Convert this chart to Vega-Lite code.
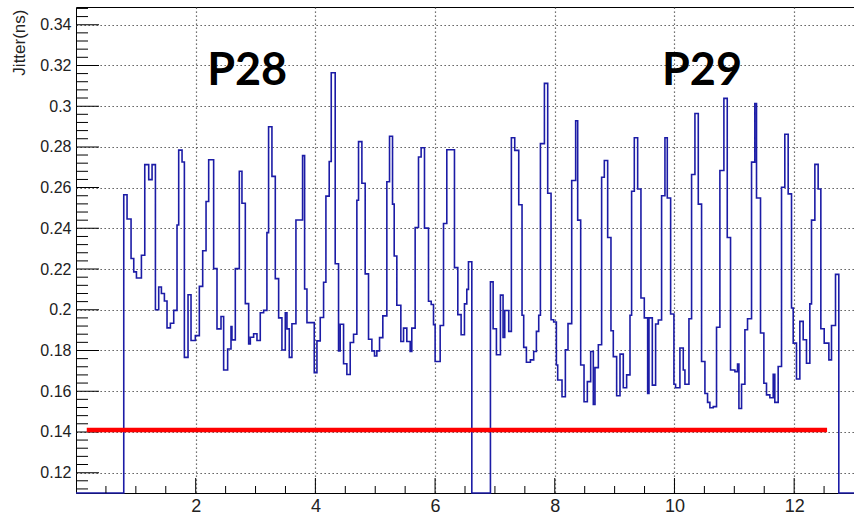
{
  "$schema": "https://vega.github.io/schema/vega-lite/v6.json",
  "width": 778,
  "height": 486,
  "autosize": {"type": "none"},
  "padding": {"left": 76, "top": 7, "right": 0, "bottom": 23},
  "background": "white",
  "config": {
    "view": {"stroke": "black", "strokeWidth": 1},
    "font": "Liberation Sans"
  },
  "datasets": {
    "hist": [
      {"x": 0, "y": 0},
      {"x": 0.798, "y": 0.2565}, {"x": 0.853, "y": 0.2446}, {"x": 0.920, "y": 0.2252}, {"x": 0.965, "y": 0.2186},
      {"x": 1.010, "y": 0.2156}, {"x": 1.093, "y": 0.2268}, {"x": 1.149, "y": 0.2713}, {"x": 1.215, "y": 0.2639},
      {"x": 1.271, "y": 0.2713}, {"x": 1.327, "y": 0.2000}, {"x": 1.382, "y": 0.2112}, {"x": 1.427, "y": 0.2080},
      {"x": 1.477, "y": 0.2043}, {"x": 1.521, "y": 0.1911}, {"x": 1.577, "y": 0.1934}, {"x": 1.633, "y": 0.1997},
      {"x": 1.688, "y": 0.2416}, {"x": 1.716, "y": 0.2784}, {"x": 1.772, "y": 0.2726}, {"x": 1.811, "y": 0.1766},
      {"x": 1.872, "y": 0.2074}, {"x": 1.922, "y": 0.1849}, {"x": 1.994, "y": 0.1873}, {"x": 2.061, "y": 0.2115},
      {"x": 2.117, "y": 0.2290}, {"x": 2.173, "y": 0.2532}, {"x": 2.217, "y": 0.2737}, {"x": 2.300, "y": 0.2202},
      {"x": 2.356, "y": 0.1906}, {"x": 2.423, "y": 0.1967}, {"x": 2.467, "y": 0.1704}, {"x": 2.534, "y": 0.1807},
      {"x": 2.590, "y": 0.1918}, {"x": 2.606, "y": 0.1852}, {"x": 2.662, "y": 0.2202}, {"x": 2.729, "y": 0.2680},
      {"x": 2.773, "y": 0.2523}, {"x": 2.829, "y": 0.2030}, {"x": 2.885, "y": 0.1832}, {"x": 2.913, "y": 0.1865},
      {"x": 2.968, "y": 0.1882}, {"x": 3.024, "y": 0.1849}, {"x": 3.079, "y": 0.1985}, {"x": 3.135, "y": 0.1997},
      {"x": 3.190, "y": 0.2379}, {"x": 3.218, "y": 0.2899}, {"x": 3.274, "y": 0.2655}, {"x": 3.330, "y": 0.2153},
      {"x": 3.386, "y": 0.1960}, {"x": 3.441, "y": 0.1802}, {"x": 3.497, "y": 0.1985}, {"x": 3.525, "y": 0.1906},
      {"x": 3.564, "y": 0.1766}, {"x": 3.608, "y": 0.1931}, {"x": 3.675, "y": 0.2441}, {"x": 3.786, "y": 0.2757},
      {"x": 3.820, "y": 0.2102}, {"x": 3.859, "y": 0.1937}, {"x": 3.981, "y": 0.1691}, {"x": 4.026, "y": 0.1847},
      {"x": 4.081, "y": 0.1962}, {"x": 4.137, "y": 0.2135}, {"x": 4.176, "y": 0.2558}, {"x": 4.231, "y": 0.2728},
      {"x": 4.265, "y": 0.3164}, {"x": 4.331, "y": 0.2226}, {"x": 4.387, "y": 0.1798}, {"x": 4.415, "y": 0.1929},
      {"x": 4.471, "y": 0.1735}, {"x": 4.526, "y": 0.1682}, {"x": 4.582, "y": 0.1839}, {"x": 4.638, "y": 0.1880},
      {"x": 4.693, "y": 0.2538}, {"x": 4.721, "y": 0.2826}, {"x": 4.777, "y": 0.2621}, {"x": 4.832, "y": 0.2176},
      {"x": 4.888, "y": 0.1855}, {"x": 4.944, "y": 0.1798}, {"x": 4.988, "y": 0.1773}, {"x": 5.027, "y": 0.1798},
      {"x": 5.072, "y": 0.1863}, {"x": 5.127, "y": 0.1970}, {"x": 5.194, "y": 0.2629}, {"x": 5.239, "y": 0.2852},
      {"x": 5.289, "y": 0.2519}, {"x": 5.317, "y": 0.2264}, {"x": 5.361, "y": 0.2022}, {"x": 5.428, "y": 0.1844},
      {"x": 5.473, "y": 0.1910}, {"x": 5.528, "y": 0.1844}, {"x": 5.584, "y": 0.1795}, {"x": 5.611, "y": 0.1910},
      {"x": 5.667, "y": 0.2404}, {"x": 5.723, "y": 0.2750}, {"x": 5.767, "y": 0.2796}, {"x": 5.823, "y": 0.2401},
      {"x": 5.890, "y": 0.2042}, {"x": 5.935, "y": 0.2026}, {"x": 5.974, "y": 0.1927}, {"x": 6.001, "y": 0.1746},
      {"x": 6.085, "y": 0.1923}, {"x": 6.141, "y": 0.2424}, {"x": 6.196, "y": 0.2786}, {"x": 6.324, "y": 0.2207},
      {"x": 6.380, "y": 0.1976}, {"x": 6.435, "y": 0.1877}, {"x": 6.491, "y": 0.2029}, {"x": 6.530, "y": 0.2100},
      {"x": 6.558, "y": 0.2236}, {"x": 6.614, "y": 0},
      {"x": 6.925, "y": 0.2137}, {"x": 6.970, "y": 0.1907}, {"x": 7.025, "y": 0.1779}, {"x": 7.092, "y": 0.2072},
      {"x": 7.136, "y": 0.1864}, {"x": 7.164, "y": 0.1996}, {"x": 7.231, "y": 0.1894}, {"x": 7.275, "y": 0.2845},
      {"x": 7.331, "y": 0.2783}, {"x": 7.398, "y": 0.2516}, {"x": 7.453, "y": 0.1973}, {"x": 7.481, "y": 0.1815},
      {"x": 7.526, "y": 0.1742}, {"x": 7.593, "y": 0.1754}, {"x": 7.648, "y": 0.1795}, {"x": 7.693, "y": 0.1894},
      {"x": 7.732, "y": 0.1973}, {"x": 7.760, "y": 0.2816}, {"x": 7.827, "y": 0.3112}, {"x": 7.882, "y": 0.2572},
      {"x": 7.938, "y": 0.1951}, {"x": 7.982, "y": 0.1940}, {"x": 8.027, "y": 0.1729}, {"x": 8.049, "y": 0.1655},
      {"x": 8.121, "y": 0.1573}, {"x": 8.177, "y": 0.1803}, {"x": 8.221, "y": 0.1932}, {"x": 8.283, "y": 0.2635},
      {"x": 8.349, "y": 0.2928}, {"x": 8.383, "y": 0.2440}, {"x": 8.433, "y": 0.1729}, {"x": 8.489, "y": 0.1548},
      {"x": 8.544, "y": 0.1647}, {"x": 8.600, "y": 0.1795}, {"x": 8.644, "y": 0.1535}, {"x": 8.672, "y": 0.1716},
      {"x": 8.728, "y": 0.1828}, {"x": 8.783, "y": 0.2651}, {"x": 8.828, "y": 0.2733}, {"x": 8.884, "y": 0.2355},
      {"x": 8.939, "y": 0.1897}, {"x": 8.978, "y": 0.1770}, {"x": 9.034, "y": 0.1578}, {"x": 9.090, "y": 0.1782},
      {"x": 9.145, "y": 0.1617}, {"x": 9.201, "y": 0.1680}, {"x": 9.257, "y": 0.1973}, {"x": 9.284, "y": 0.2582},
      {"x": 9.329, "y": 0.2845}, {"x": 9.385, "y": 0.2593}, {"x": 9.440, "y": 0.2058}, {"x": 9.496, "y": 0.1960},
      {"x": 9.552, "y": 0.1589}, {"x": 9.574, "y": 0.1960}, {"x": 9.630, "y": 0.1630}, {"x": 9.685, "y": 0.1930},
      {"x": 9.730, "y": 0.1950}, {"x": 9.785, "y": 0.2560}, {"x": 9.841, "y": 0.2845}, {"x": 9.880, "y": 0.2549},
      {"x": 9.936, "y": 0.1979}, {"x": 9.991, "y": 0.1634}, {"x": 10.019, "y": 0.1617}, {"x": 10.091, "y": 0.1812},
      {"x": 10.147, "y": 0.1704}, {"x": 10.175, "y": 0.1634}, {"x": 10.242, "y": 0.1956}, {"x": 10.286, "y": 0.2664},
      {"x": 10.342, "y": 0.2964}, {"x": 10.398, "y": 0.2519}, {"x": 10.453, "y": 0.1746}, {"x": 10.509, "y": 0.1589},
      {"x": 10.553, "y": 0.1545}, {"x": 10.592, "y": 0.1519}, {"x": 10.648, "y": 0.1524}, {"x": 10.703, "y": 0.1914},
      {"x": 10.759, "y": 0.2684}, {"x": 10.826, "y": 0.3038}, {"x": 10.882, "y": 0.2355}, {"x": 10.937, "y": 0.1704},
      {"x": 11.010, "y": 0.1696}, {"x": 11.054, "y": 0.1733}, {"x": 11.077, "y": 0.1515}, {"x": 11.121, "y": 0.1634},
      {"x": 11.177, "y": 0.1902}, {"x": 11.221, "y": 0.1956}, {"x": 11.288, "y": 0.2725}, {"x": 11.343, "y": 0.3013},
      {"x": 11.371, "y": 0.2549}, {"x": 11.438, "y": 0.1886}, {"x": 11.494, "y": 0.1639}, {"x": 11.538, "y": 0.1582},
      {"x": 11.594, "y": 0.1568}, {"x": 11.650, "y": 0.1683}, {"x": 11.677, "y": 0.1545}, {"x": 11.733, "y": 0.1721},
      {"x": 11.789, "y": 0.2602}, {"x": 11.844, "y": 0.2862}, {"x": 11.900, "y": 0.2569}, {"x": 11.956, "y": 0.2009},
      {"x": 11.984, "y": 0.1836}, {"x": 12.039, "y": 0.1660}, {"x": 12.095, "y": 0.1943}, {"x": 12.151, "y": 0.1853},
      {"x": 12.206, "y": 0.1737}, {"x": 12.262, "y": 0.2029}, {"x": 12.290, "y": 0.2440}, {"x": 12.346, "y": 0.2714},
      {"x": 12.401, "y": 0.2593}, {"x": 12.446, "y": 0.1907}, {"x": 12.502, "y": 0.1836}, {"x": 12.580, "y": 0.1754},
      {"x": 12.624, "y": 0.1923}, {"x": 12.691, "y": 0.2174}, {"x": 12.746, "y": 0},
      {"x": 13, "y": 0}
    ],
    "limit": [{"x": 0.18, "x1": 12.55, "y": 0.141}],
    "labels": [
      {"x": 2.86, "y": 0.3106, "text": "P28"},
      {"x": 10.46, "y": 0.3106, "text": "P29"}
    ],
    "xmajor": [{"x": 2}, {"x": 4}, {"x": 6}, {"x": 8}, {"x": 10}, {"x": 12}],
    "xminor": [{"x": 0.5}, {"x": 1}, {"x": 1.5}, {"x": 2.5}, {"x": 3}, {"x": 3.5}, {"x": 4.5}, {"x": 5}, {"x": 5.5}, {"x": 6.5}, {"x": 7}, {"x": 7.5}, {"x": 8.5}, {"x": 9}, {"x": 9.5}, {"x": 10.5}, {"x": 11}, {"x": 11.5}, {"x": 12.5}],
    "ymajor": [{"y": 0.12}, {"y": 0.14}, {"y": 0.16}, {"y": 0.18}, {"y": 0.2}, {"y": 0.22}, {"y": 0.24}, {"y": 0.26}, {"y": 0.28}, {"y": 0.3}, {"y": 0.32}, {"y": 0.34}],
    "yminor": [{"y": 0.112}, {"y": 0.116}, {"y": 0.124}, {"y": 0.128}, {"y": 0.132}, {"y": 0.136}, {"y": 0.144}, {"y": 0.148}, {"y": 0.152}, {"y": 0.156}, {"y": 0.164}, {"y": 0.168}, {"y": 0.172}, {"y": 0.176}, {"y": 0.184}, {"y": 0.188}, {"y": 0.192}, {"y": 0.196}, {"y": 0.204}, {"y": 0.208}, {"y": 0.212}, {"y": 0.216}, {"y": 0.224}, {"y": 0.228}, {"y": 0.232}, {"y": 0.236}, {"y": 0.244}, {"y": 0.248}, {"y": 0.252}, {"y": 0.256}, {"y": 0.264}, {"y": 0.268}, {"y": 0.272}, {"y": 0.276}, {"y": 0.284}, {"y": 0.288}, {"y": 0.292}, {"y": 0.296}, {"y": 0.304}, {"y": 0.308}, {"y": 0.312}, {"y": 0.316}, {"y": 0.324}, {"y": 0.328}, {"y": 0.332}, {"y": 0.336}, {"y": 0.344}, {"y": 0.348}]
  },
  "layer": [
    {
      "data": {"name": "hist"},
      "mark": {"type": "line", "interpolate": "step-after", "color": "#1c1ca6", "strokeWidth": 1.6},
      "encoding": {
        "x": {
          "field": "x", "type": "quantitative",
          "scale": {"domain": [0, 13], "nice": false, "zero": false},
          "axis": {
            "orient": "bottom",
            "values": [2, 4, 6, 8, 10, 12],
            "format": "~g",
            "grid": true, "gridColor": "#444444", "gridDash": [1.3, 2.7], "gridWidth": 1.2,
            "domain": false, "title": null, "ticks": false,
            "labelPadding": 4, "labelFontSize": 18, "labelColor": "#222222", "labelFont": "Liberation Sans"
          }
        },
        "y": {
          "field": "y", "type": "quantitative",
          "scale": {"domain": [0.11, 0.3487], "nice": false, "zero": false, "clamp": true},
          "axis": {
            "orient": "left",
            "values": [0.12, 0.14, 0.16, 0.18, 0.2, 0.22, 0.24, 0.26, 0.28, 0.3, 0.32, 0.34],
            "format": ".2~f",
            "grid": true, "gridColor": "#444444", "gridDash": [1.3, 2.7], "gridWidth": 1.2,
            "domain": false, "ticks": false,
            "labelPadding": 5, "labelFontSize": 16, "labelColor": "#222222", "labelFont": "Liberation Sans",
            "title": "Jitter(ns)", "titleFontSize": 17, "titleFontWeight": "normal", "titleFont": "Liberation Sans",
            "titleColor": "#222222", "titleAngle": 270, "titleAlign": "right", "titleBaseline": "middle",
            "titleX": -57, "titleY": 2
          }
        }
      }
    },
    {
      "data": {"name": "xmajor"},
      "mark": {"type": "tick", "orient": "vertical", "size": 30, "thickness": 1, "color": "black", "opacity": 1, "clip": true},
      "encoding": {
        "x": {"field": "x", "type": "quantitative"},
        "y": {"value": "height"}
      }
    },
    {
      "data": {"name": "xminor"},
      "mark": {"type": "tick", "orient": "vertical", "size": 14, "thickness": 1, "color": "black", "opacity": 1, "clip": true},
      "encoding": {
        "x": {"field": "x", "type": "quantitative"},
        "y": {"value": "height"}
      }
    },
    {
      "data": {"name": "ymajor"},
      "mark": {"type": "tick", "orient": "horizontal", "size": 46, "thickness": 1, "color": "black", "opacity": 1, "clip": true},
      "encoding": {
        "y": {"field": "y", "type": "quantitative"},
        "x": {"value": 0}
      }
    },
    {
      "data": {"name": "yminor"},
      "mark": {"type": "tick", "orient": "horizontal", "size": 24, "thickness": 1, "color": "black", "opacity": 1, "clip": true},
      "encoding": {
        "y": {"field": "y", "type": "quantitative"},
        "x": {"value": 0}
      }
    },
    {
      "data": {"name": "limit"},
      "mark": {"type": "rule", "color": "#ff0000", "strokeWidth": 4.5},
      "encoding": {
        "x": {"field": "x", "type": "quantitative"},
        "x2": {"field": "x1"},
        "y": {"field": "y", "type": "quantitative"}
      }
    },
    {
      "data": {"name": "labels"},
      "mark": {"type": "text", "font": "Lato", "fontWeight": "bold", "fontSize": 45, "color": "black", "align": "center", "baseline": "alphabetic"},
      "encoding": {
        "x": {"field": "x", "type": "quantitative"},
        "y": {"field": "y", "type": "quantitative"},
        "text": {"field": "text"}
      }
    }
  ]
}
